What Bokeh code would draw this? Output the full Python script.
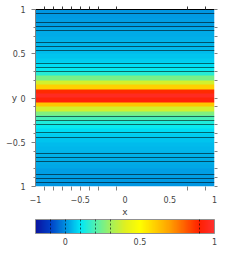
import numpy as np
from bokeh.plotting import figure
from bokeh.models import (Range1d, LinearColorMapper, ColorBar, FixedTicker,
                          LinearAxis)
from bokeh.embed import file_html
from bokeh.resources import INLINE

# ---- data ----
y_centers = [0.975, 0.925, 0.875, 0.825, 0.775, 0.725, 0.675, 0.625, 0.575, 0.525,
             0.475, 0.425, 0.375, 0.325, 0.275, 0.225, 0.175, 0.125, 0.075, 0.025,
             -0.025, -0.075, -0.125, -0.175, -0.225, -0.275, -0.325, -0.375, -0.425, -0.475,
             -0.525, -0.575, -0.625, -0.675, -0.725, -0.775, -0.825, -0.875, -0.925, -0.975]
z_values = [0.01, 0.015, 0.02, 0.02, 0.025, 0.03, 0.035, 0.04, 0.045, 0.05,
            0.06, 0.07, 0.09, 0.11, 0.15, 0.25, 0.38, 0.6, 0.88, 0.97,
            0.92, 0.62, 0.38, 0.26, 0.19, 0.14, 0.11, 0.09, 0.07, 0.06,
            0.05, 0.045, 0.04, 0.035, 0.03, 0.025, 0.02, 0.02, 0.015, 0.01]
contour_y = [0.951, 0.850, 0.805, 0.759, 0.624, 0.579, 0.533, 0.386, 0.341, 0.296,
             -0.209, -0.254, -0.299, -0.395, -0.441, -0.631, -0.676, -0.721,
             -0.859, -0.904, -0.951]
x_major = [-1, -0.5, 0, 0.5, 1]
x_labels = {-1: "\u22121", -0.5: "\u22120.5", 0: "0", 0.5: "0.5", 1: "1"}
x_minor = [-0.9, -0.8, -0.7, -0.6, -0.5, -0.4, -0.3, -0.1, 0.7, 0.9]
y_major = [-1, -0.5, 0, 0.5, 1]
y_labels = {-1: "1", -0.5: "\u22120.5", 0: "0", 0.5: "0.5", 1: "1"}
y_minor = [0.8, 0.7, 0.3, 0.2, -0.1, -0.3, -0.4, -0.6, -0.8, -0.9]
cb_low, cb_high = -0.2, 1.0
cb_major = [0, 0.5, 1]
cb_minor = [-0.1, 0, 0.1, 0.2, 0.3, 0.9]

# ---- palette (jet-like) ----
anchors = [(-0.2, "#0a14a0"), (-0.1, "#0040c8"), (0.0, "#0090e0"), (0.1, "#00e8f8"),
           (0.2, "#50f0b0"), (0.3, "#a0f060"), (0.4, "#e0f020"), (0.5, "#ffff00"),
           (0.6, "#ffd000"), (0.7, "#ffa000"), (0.8, "#ff6000"), (0.9, "#ff2000"),
           (1.0, "#ff3030")]
av = np.array([a[0] for a in anchors])
rgb = np.array([[int(h[i:i + 2], 16) for i in (1, 3, 5)] for _, h in anchors], dtype=float)
vals = np.linspace(cb_low, cb_high, 256)
palette = []
for v in vals:
    c = [int(round(np.interp(v, av, rgb[:, k]))) for k in range(3)]
    palette.append("#%02x%02x%02x" % tuple(c))
mapper = LinearColorMapper(palette=palette, low=cb_low, high=cb_high)

FONT = "DejaVu Sans"
TXT = "#444444"

p = figure(frame_width=179, frame_height=177, output_backend="svg", toolbar_location=None,
           x_range=Range1d(-1, 1), y_range=Range1d(-1, 1),
           x_axis_location=None, y_axis_location=None,
           min_border_left=35, min_border_right=14, min_border_top=9, min_border_bottom=4)
p.grid.visible = False
p.outline_line_color = None
p.background_fill_color = None
p.border_fill_color = "white"

row_h = abs(y_centers[0] - y_centers[1])
z = np.array(z_values[::-1], dtype=float).reshape(-1, 1)
y0 = min(y_centers) - row_h / 2
p.image(image=[z], x=-1, y=y0, dw=2, dh=row_h * len(y_centers), color_mapper=mapper)

p.hspan(y=contour_y, line_color="black", line_alpha=0.55, line_width=1)


def style_axis(ax):
    ax.major_label_text_font = FONT
    ax.major_label_text_font_size = "8px"
    ax.major_label_text_color = TXT
    ax.axis_label_text_font = FONT
    ax.axis_label_text_font_size = "9px"
    ax.axis_label_text_font_style = "normal"
    ax.axis_label_text_color = TXT
    ax.major_tick_line_color = "#808080"
    ax.minor_tick_line_color = "#808080"
    ax.major_tick_in = 0
    ax.minor_tick_in = 0


xt = FixedTicker(ticks=x_major, minor_ticks=x_minor)
yt = FixedTicker(ticks=y_major, minor_ticks=y_minor)

bx = LinearAxis(ticker=xt, axis_label="x", major_label_overrides=x_labels)
style_axis(bx)
bx.axis_line_color = None
bx.major_tick_out = 0
bx.minor_tick_out = 4
bx.major_label_standoff = 5
bx.axis_label_standoff = 1
p.add_layout(bx, "below")

tx = LinearAxis(ticker=FixedTicker(ticks=[], minor_ticks=x_minor))
style_axis(tx)
tx.axis_line_color = "black"
tx.minor_tick_line_color = "#333333"
tx.major_tick_out = 0
tx.minor_tick_out = 3
tx.major_label_standoff = 0
p.add_layout(tx, "above")

ly = LinearAxis(ticker=yt, axis_label="y", major_label_overrides=y_labels)
style_axis(ly)
ly.axis_line_color = "#808080"
ly.major_tick_out = 4
ly.minor_tick_out = 2
ly.major_label_standoff = 6
ly.axis_label_standoff = -14
ly.axis_label_orientation = "horizontal"
p.add_layout(ly, "left")

ry = LinearAxis(ticker=FixedTicker(ticks=[], minor_ticks=y_major + y_minor))
style_axis(ry)
ry.axis_line_color = None
ry.major_tick_out = 0
ry.minor_tick_out = 3
ry.major_label_standoff = 0
p.add_layout(ry, "right")

cb = ColorBar(color_mapper=mapper, orientation="horizontal", width=179, height=14,
              ticker=FixedTicker(ticks=cb_major, minor_ticks=cb_minor),
              padding=0, margin=6, location=(0, 0),
              bar_line_color="#909090", border_line_color=None,
              background_fill_alpha=0,
              major_label_text_font=FONT, major_label_text_font_size="8px",
              major_label_text_color=TXT, label_standoff=4,
              major_tick_in=0, major_tick_out=0,
              minor_tick_in=14, minor_tick_out=0,
              minor_tick_line_color="black", minor_tick_line_alpha=0.6,
              minor_tick_line_dash="2 2")
p.add_layout(cb, "below")

open("out.html", "w").write(file_html(p, INLINE))
